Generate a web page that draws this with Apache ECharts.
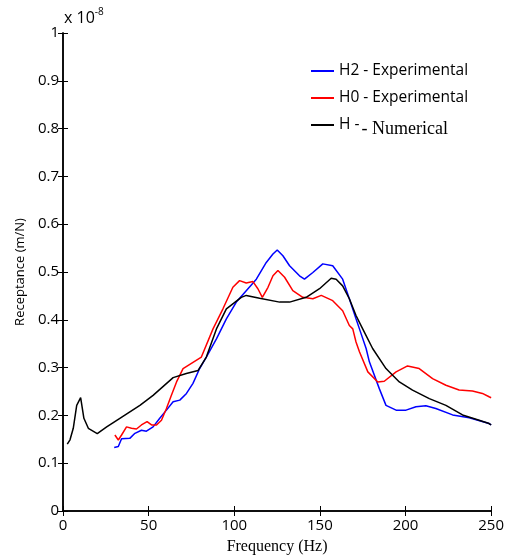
<!DOCTYPE html>
<html><head><meta charset="utf-8">
<script src="https://cdn.jsdelivr.net/npm/echarts@6/dist/echarts.min.js"></script>
<style>html,body{margin:0;padding:0;background:#fff}#c{width:507px;height:560px}</style>
</head><body><div id="c"></div>
<script>
// Values in units of 1e-8 m/N
const h2Freq = [29.9,32.3,34.2,39,42,45.8,48.7,52.6,56.5,60.4,64.3,68.2,72.1,75.9,79.8,83.7,89.6,95.4,101.2,107,112.9,118.7,122.6,125.1,128.4,132.3,138.1,141,145.9,151.7,157.5,163.3,167.2,171.1,173.1,177,178.9,184.7,188.6,194.5,200.3,206.1,211.9,217.7,227.5,237.2,248.8,250];
const h2Vals = [0.133,0.135,0.151,0.152,0.1625,0.169,0.167,0.176,0.194,0.211,0.2285,0.232,0.246,0.267,0.298,0.322,0.360,0.402,0.437,0.461,0.485,0.520,0.5375,0.546,0.534,0.513,0.492,0.485,0.499,0.517,0.513,0.485,0.444,0.402,0.381,0.340,0.312,0.256,0.221,0.211,0.211,0.218,0.220,0.2145,0.201,0.195,0.183,0.180];
const h0Freq = [30.3,32.3,34.2,37.1,40,42.9,45.8,49.1,51.7,54.6,57.5,60.4,63.3,66.3,70.1,80.8,87.6,93.4,99.2,103.1,107,110.9,113.8,116.4,119.7,122.6,125.5,129.4,134.2,140,145.9,150.8,157.5,163.3,167.2,169.2,171.1,173.1,178,183.8,187.6,194.5,201.2,208,215.8,223.6,231.3,239.1,244.9,248.8,250];
const h0Vals = [0.159,0.1485,0.159,0.176,0.173,0.1715,0.180,0.187,0.180,0.180,0.190,0.2145,0.242,0.270,0.298,0.322,0.381,0.423,0.468,0.482,0.477,0.480,0.465,0.447,0.468,0.492,0.503,0.489,0.461,0.447,0.444,0.451,0.440,0.419,0.388,0.381,0.3535,0.333,0.291,0.270,0.2715,0.291,0.3035,0.298,0.277,0.263,0.253,0.251,0.246,0.239,0.237];
const hFreq = [2.5,4.1,6,8,10.3,12.2,14.8,20,25.5,33.2,44.9,52.6,64.3,72,78.9,83.7,89.6,95.4,104.1,107,114.8,126.5,132.3,142,149.8,156.6,159.5,163.3,167.2,171.1,175,180.8,188.6,196.4,204.1,213.9,223.6,233.3,243,248.8,250];
const hVals = [0.14,0.149,0.173,0.221,0.237,0.194,0.173,0.162,0.176,0.194,0.221,0.242,0.279,0.2875,0.294,0.322,0.381,0.423,0.447,0.451,0.445,0.437,0.437,0.447,0.465,0.487,0.485,0.471,0.444,0.409,0.381,0.340,0.298,0.270,0.253,0.235,0.221,0.201,0.190,0.183,0.180];
const xTicks = [0,50,100,150,200,250];
const yTicks = [0,0.1,0.2,0.3,0.4,0.5,0.6,0.7,0.8,0.9,1];
const seriesNames = ['H2 - Experimental','H0 - Experimental','H - Numerical'];

const zip = (a,b) => a.map((x,i)=>[x,b[i]]);
const chart = echarts.init(document.getElementById('c'), null, {renderer:'canvas'});
const sans = '"Open Sans", "Noto Sans", sans-serif';
const serif = '"Liberation Serif", "DejaVu Serif", serif';
const axLine = {lineStyle:{color:'#000', width:1.5}};
chart.setOption({
  animation:false,
  grid:{left:63, right:15, top:33, bottom:47},
  legend:{
    orient:'vertical', left:306, top:58, itemWidth:23, itemHeight:2, itemGap:11,
    icon:'rect',
    data:seriesNames,
    textStyle:{fontFamily:sans, fontSize:15.5, color:'#000',
      rich:{a:{fontFamily:sans,fontSize:15.5,color:'#000'}, b:{fontFamily:serif,fontSize:18,color:'#000',padding:[8,0,0,2]}}},
    formatter: n => n === 'H - Numerical' ? '{a|H -}{b|- Numerical}' : n
  },
  xAxis:[{type:'value', min:0, max:250, interval:50, axisLine:axLine,
    axisTick:{inside:true,length:5,lineStyle:{color:'#000'}},
    axisLabel:{fontFamily:sans,fontSize:15,color:'#000',margin:7},
    splitLine:{show:false},
    name:'Frequency (Hz)', nameLocation:'middle', nameGap:28,
    nameTextStyle:{fontFamily:serif,fontSize:16,color:'#000'}},
    {type:'value', position:'top', min:0, max:250, interval:50, axisLine:axLine,
    axisTick:{inside:true,length:5,lineStyle:{color:'#000'}}, axisLabel:{show:false}, splitLine:{show:false}}],
  yAxis:[{type:'value', min:0, max:1, interval:0.1, axisLine:axLine,
    axisTick:{inside:true,length:5,lineStyle:{color:'#000'}},
    axisLabel:{fontFamily:sans,fontSize:15,color:'#000',margin:4, formatter:v=>String(Math.round(v*10)/10)},
    splitLine:{show:false},
    name:'Receptance (m/N)', nameLocation:'middle', nameGap:36, nameRotate:90,
    nameTextStyle:{fontFamily:sans,fontSize:13,color:'#000'}},
    {type:'value', position:'right', min:0, max:1, interval:0.1, axisLine:axLine,
    axisTick:{inside:true,length:5,lineStyle:{color:'#000'}}, axisLabel:{show:false}, splitLine:{show:false}}],
  graphic:[{type:'text', left:64, top:7, style:{rich:{m:{fontFamily:sans,fontSize:16,fill:'#000'}, s:{fontFamily:sans,fontSize:10,fill:'#000',padding:[0,0,12,0]}}, text:'{m|x 10}{s|-8}'}}],
  series:[
    {name:seriesNames[0], type:'line', data:zip(h2Freq,h2Vals), showSymbol:false, lineStyle:{color:'#0000ff',width:1.5}, itemStyle:{color:'#0000ff'}},
    {name:seriesNames[1], type:'line', data:zip(h0Freq,h0Vals), showSymbol:false, lineStyle:{color:'#ff0000',width:1.5}, itemStyle:{color:'#ff0000'}},
    {name:seriesNames[2], type:'line', data:zip(hFreq,hVals), showSymbol:false, lineStyle:{color:'#000',width:1.5}, itemStyle:{color:'#000'}}
  ]
});
</script></body></html>
